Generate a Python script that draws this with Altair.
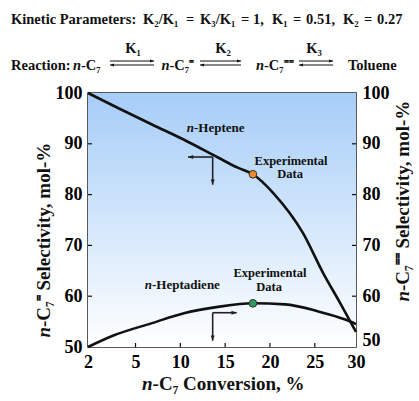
import altair as alt
import pandas as pd

# ---------------- data ----------------
heptene_x = [-0.3, 3.05, 6.84, 10.52, 14.2, 16.4, 18.1, 20.37, 23.69, 25.92, 27.82, 29.6]
heptene_y = [100.0, 97.05, 93.8, 90.7, 87.3, 85.3, 84.0, 80.3, 72.4, 64.6, 58.7, 53.0]
heptadiene_x = [-0.3, 2.6, 6.84, 10.5, 14.2, 18.1, 21.7, 25.4, 28.4, 29.6]
heptadiene_y = [50.0, 52.3, 54.7, 56.7, 57.9, 58.6, 58.4, 57.0, 55.4, 54.5]
exp_series = ["n-Heptene", "n-Heptadiene"]
exp_x = [18.1, 18.1]
exp_y = [84.0, 58.6]
exp_colors = ["#f0892e", "#2f9a5a"]

x_tick_positions = [-0.3, 5, 10, 15, 20, 25, 29.6]
x_tick_labels = ["2", "5", "10", "15", "20", "25", "30"]
x_minor_ticks = [5, 10, 15, 20, 25]
y_tick_values = [50, 60, 70, 80, 90, 100]
y_inner_ticks = [60, 70, 80, 90]

header_pieces = ["Kinetic Parameters:", "K₂/K₁", "=", "K₃/K₁", "=", "1,", "K₁", "=",
                 "0.51,", "K₂", "=", "0.27"]

# ---------------- layout ----------------
W, H = 268, 254
FONT = "Liberation Serif"
INK = "#111111"
X_DOMAIN = [-0.3, 29.6]
Y_DOMAIN = [50, 100]

xscale = alt.Scale(domain=X_DOMAIN, nice=False, zero=False)
yscale = alt.Scale(domain=Y_DOMAIN, nice=False, zero=False)

label_expr = "".join(
    f"abs(datum.value - ({v})) < 0.01 ? '{l}' : " for v, l in zip(x_tick_positions, x_tick_labels)
) + "datum.label"

x_axis = alt.Axis(values=x_tick_positions, labelExpr=label_expr, domain=False, ticks=False,
                  grid=False, title=None, labelFont=FONT, labelFontWeight="bold",
                  labelFontSize=18, labelPadding=6, labelColor="black",
                  labelFlush=False, labelOverlap=False, labelBound=False)


def y_axis(orient, offset_cond=None):
    kw = dict(orient=orient, values=y_tick_values, domain=False, ticks=False, grid=False,
              title=None, labelFont=FONT, labelFontWeight="bold", labelFontSize=18,
              labelPadding=6, labelColor="black", labelOverlap=False, labelFlush=False)
    if offset_cond is not None:
        kw["labelOffset"] = offset_cond
    return alt.Axis(**kw)


# background gradient
bg = alt.Chart(alt.Data(values=[{}])).mark_rect(
    fill=alt.Gradient(gradient="linear",
                      stops=[alt.GradientStop(color="#a6cdf8", offset=0),
                             alt.GradientStop(color="#ffffff", offset=1)],
                      x1=0, x2=0, y1=0, y2=1)
).encode(x=alt.value(0), x2=alt.value(W), y=alt.value(0), y2=alt.value(H))

# inward ticks
yt = pd.DataFrame({"v": y_inner_ticks})
yt_left = alt.Chart(yt).mark_rule(color=INK, strokeWidth=1.2).encode(
    y=alt.Y("v:Q", scale=yscale, axis=None), x=alt.value(0), x2=alt.value(4))
yt_right = alt.Chart(yt).mark_rule(color=INK, strokeWidth=1.2).encode(
    y=alt.Y("v:Q", scale=yscale, axis=None), x=alt.value(W - 4), x2=alt.value(W))
xt = alt.Chart(pd.DataFrame({"v": x_minor_ticks})).mark_rule(color=INK, strokeWidth=1.2).encode(
    x=alt.X("v:Q", scale=xscale, axis=None), y=alt.value(H - 4), y2=alt.value(H))

# curves (carry the bottom and left axes)
curves = pd.DataFrame({
    "x": heptene_x + heptadiene_x,
    "y": heptene_y + heptadiene_y,
    "series": ["n-Heptene"] * len(heptene_x) + ["n-Heptadiene"] * len(heptadiene_x),
    "order": list(range(len(heptene_x))) + list(range(len(heptadiene_x))),
})
lines = alt.Chart(curves).mark_line(color=INK, strokeWidth=2.6, interpolate="monotone").encode(
    x=alt.X("x:Q", scale=xscale, axis=x_axis),
    y=alt.Y("y:Q", scale=yscale, axis=y_axis("left")),
    detail="series:N",
    order="order:Q",
)

# experimental points (carry the right axis)
pts_df = pd.DataFrame({"x": exp_x, "y": exp_y, "series": exp_series})
points = alt.Chart(pts_df).mark_point(filled=True, size=60, stroke="#333333", strokeWidth=1,
                                       opacity=1, shape="circle").encode(
    x=alt.X("x:Q", scale=xscale, axis=None),
    y=alt.Y("y:Q", scale=yscale,
            axis=y_axis("right", {"condition": {"test": "datum.value == 50", "value": -7}, "value": 0})),
    fill=alt.Fill("series:N", scale=alt.Scale(domain=exp_series, range=exp_colors), legend=None),
)

# in-plot arrows (data coordinates)
arrow_segs = pd.DataFrame({
    "x": [13.61, 13.61, 13.61, 13.61],
    "y": [87.4, 87.4, 56.75, 56.75],
    "x2": [10.86, 13.61, 13.61, 16.29],
    "y2": [87.4, 81.95, 51.24, 56.75],
})
SH_L = "M0,0L1,-0.38L1,0.38Z"
SH_R = "M0,0L-1,-0.38L-1,0.38Z"
SH_D = "M0,0L-0.38,-1L0.38,-1Z"
arrow_heads = pd.DataFrame({
    "x": [10.86, 13.61, 13.61, 16.29],
    "y": [87.4, 81.95, 51.24, 56.75],
    "shape": [SH_L, SH_D, SH_D, SH_R],
})
arr_rules = alt.Chart(arrow_segs).mark_rule(color="#222222", strokeWidth=1.6).encode(
    x=alt.X("x:Q", scale=xscale, axis=None), y=alt.Y("y:Q", scale=yscale, axis=None),
    x2="x2:Q", y2="y2:Q")
arr_heads = alt.Chart(arrow_heads).mark_point(filled=True, size=110, color="#222222", opacity=1).encode(
    x=alt.X("x:Q", scale=xscale, axis=None), y=alt.Y("y:Q", scale=yscale, axis=None),
    shape=alt.Shape("shape:N", scale=None))

# in-plot annotations (data coordinates)
ann_center = pd.DataFrame({
    "t": ["Experimental", "Data", "Experimental", "Data"],
    "x": [22.35, 22.25, 20.0, 19.9],
    "y": [85.75, 83.2, 63.7, 60.95],
})
ann_left = pd.DataFrame({"t": ["-Heptene", "-Heptadiene"], "x": [11.53, 6.84], "y": [92.3, 61.4]})
ann_ital = pd.DataFrame({"t": ["n", "n"], "x": [11.53, 6.84], "y": [92.3, 61.4]})


def data_text(df, align, style="normal", size=13):
    return alt.Chart(df).mark_text(font=FONT, fontWeight="bold", fontStyle=style, fontSize=size,
                                   align=align, baseline="alphabetic", color=INK).encode(
        x=alt.X("x:Q", scale=xscale, axis=None), y=alt.Y("y:Q", scale=yscale, axis=None),
        text="t:N")


t_center = data_text(ann_center, "center", size=12.5)
t_left = data_text(ann_left, "left")
t_ital = data_text(ann_ital, "right", "italic")

# header (pixel coordinates relative to the plot area)
hdr_top = pd.DataFrame({
    "t": header_pieces,
    "x": [-77, 55, 98, 112, 153, 165, 184, 205, 218, 255, 276, 289],
    "y": [-69] * len(header_pieces),
})
hdr_left = pd.DataFrame({
    "t": ["Reaction:", "-C₇", "-C₇⁼", "-C₇⁼⁼", "Toluene"],
    "x": [-77, -7, 81.5, 176, 260],
    "y": [-23, -23, -23, -23, -23],
})
hdr_ital = pd.DataFrame({"t": ["n", "n", "n"], "x": [-7, 81.5, 176], "y": [-23, -23, -23]})
hdr_k = pd.DataFrame({"t": ["K₁", "K₂", "K₃"], "x": [45, 135, 226], "y": [-40, -40, -40]})


def px_text(df, align, size, style="normal", angle=0, baseline="alphabetic"):
    kw = dict(font=FONT, fontWeight="bold", fontStyle=style, fontSize=size, align=align,
              baseline=baseline, color=INK)
    if angle:
        kw["angle"] = angle
    return alt.Chart(df).mark_text(**kw).encode(
        x=alt.X("x:Q", scale=None, axis=None), y=alt.Y("y:Q", scale=None, axis=None), text="t:N")


h_top = px_text(hdr_top, "left", 14.5)
h_left = px_text(hdr_left, "left", 14.5)
h_ital = px_text(hdr_ital, "right", 14.5, "italic")
h_k = px_text(hdr_k, "center", 14.5)

eq_arrows = [(22, 66), (112, 153), (211, 245)]
eq_rules = pd.DataFrame({
    "x": [a for a, b in eq_arrows] * 2,
    "x2": [b for a, b in eq_arrows] * 2,
    "y": [-32] * 3 + [-28] * 3,
})
eq_heads = pd.DataFrame({
    "x": [b for a, b in eq_arrows] + [a for a, b in eq_arrows],
    "y": [-32] * 3 + [-28] * 3,
    "shape": [SH_R] * 3 + [SH_L] * 3,
})
h_rules = alt.Chart(eq_rules).mark_rule(color=INK, strokeWidth=1.1).encode(
    x=alt.X("x:Q", scale=None, axis=None), x2="x2:Q", y=alt.Y("y:Q", scale=None, axis=None))
h_heads = alt.Chart(eq_heads).mark_point(filled=True, size=64, color=INK, opacity=1).encode(
    x=alt.X("x:Q", scale=None, axis=None), y=alt.Y("y:Q", scale=None, axis=None),
    shape=alt.Shape("shape:N", scale=None))

# axis titles
xt_left = px_text(pd.DataFrame({"t": ["-C₇ Conversion, %"], "x": [64.6], "y": [297]}), "left", 19)
xt_ital = px_text(pd.DataFrame({"t": ["n"], "x": [64.6], "y": [297]}), "right", 19, "italic")
yl_rest = px_text(pd.DataFrame({"t": ["-C₇⁼ Selectivity, mol-%"], "x": [-44], "y": [234]}),
                  "left", 19, angle=270, baseline="middle")
yl_ital = px_text(pd.DataFrame({"t": ["n"], "x": [-44], "y": [234]}),
                  "right", 19, "italic", angle=270, baseline="middle")
yr_rest = px_text(pd.DataFrame({"t": ["-C₇⁼⁼ Selectivity, mol-%"], "x": [315], "y": [198]}),
                  "left", 19, angle=270, baseline="middle")
yr_ital = px_text(pd.DataFrame({"t": ["n"], "x": [315], "y": [198]}),
                  "right", 19, "italic", angle=270, baseline="middle")

chart = alt.layer(
    bg, yt_left, yt_right, xt, lines, points, arr_rules, arr_heads,
    t_center, t_left, t_ital, h_top, h_left, h_ital, h_k, h_rules, h_heads,
    xt_left, xt_ital, yl_rest, yl_ital, yr_rest, yr_ital,
).resolve_axis(x="independent", y="independent").properties(
    width=W, height=H,
    padding={"left": 88, "top": 93, "right": 63, "bottom": 54},
    autosize=alt.AutoSizeParams(type="none"),
    background="white",
).configure_view(stroke="#222222", strokeWidth=1.5)

chart.save("out.html", embed_options={"renderer": "svg", "actions": False})
